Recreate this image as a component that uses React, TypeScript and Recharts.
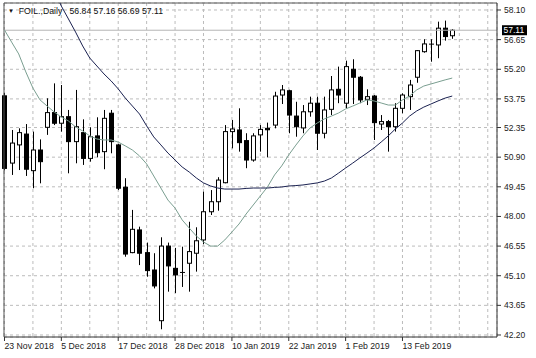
import {
  Bar,
  CartesianGrid,
  ComposedChart,
  Line,
  ReferenceLine,
  XAxis,
  YAxis,
} from "recharts";

// daily candles, 23 Nov 2018 .. 22 Feb 2019 (index = trading day)
const opens = [
  53.9, 50.61, 51.5, 52.03, 50.24, 51.25, 52.36, 53.08, 52.56, 52.88, 51.66, 52.1, 50.84, 51.94, 51.17, 53.05,
  51.5, 49.43, 46.23, 47.34, 46.23, 45.38, 42.9, 46.55, 45.46, 45.24, 45.71, 46.2, 46.85, 48.23, 48.72, 49.65,
  52.15, 52.23, 51.71, 50.76, 51.99, 52.31, 52.47, 53.94, 54.15, 52.91, 52.33, 53.12, 53.54, 52.07, 53.24, 54.22,
  53.54, 55.2, 54.81, 53.73, 53.89, 52.52, 52.64, 52.39, 53.29, 53.86, 54.81, 56.06, 56.41, 56.39, 57.21, 56.84,
];
const highs = [
  54.05, 52.23, 52.31, 52.52, 52.15, 51.77, 53.78, 54.51, 54.43, 53.21, 54.19, 52.75, 52.36, 52.85, 53.21, 53.21,
  51.55, 49.87, 48.32, 47.5, 46.72, 46.2, 46.98, 46.72, 46.46, 46.52, 47.74, 47.47, 49.21, 49.29, 49.92, 52.47,
  52.72, 53.29, 52.07, 52.07, 52.47, 52.59, 54.1, 54.43, 54.2, 53.61, 53.45, 53.86, 53.86, 53.86, 54.87, 55.33,
  55.62, 55.69, 54.87, 54.22, 53.94, 52.96, 52.72, 53.54, 54.02, 54.68, 56.14, 56.67, 56.67, 57.53, 57.58, 57.16,
];
const lows = [
  50.25, 50.03, 50.27, 49.98, 49.38, 49.62, 51.99, 52.47, 52.15, 50.11, 50.6, 50.52, 50.68, 50.89, 50.31, 51.09,
  49.29, 46.03, 46.2, 45.62, 45.05, 44.48, 42.48, 44.32, 44.25, 44.55, 44.32, 45.3, 46.65, 48.07, 48.28, 49.62,
  51.33, 51.17, 50.36, 50.68, 51.17, 50.89, 52.31, 53.5, 52.07, 51.9, 52.07, 52.88, 51.25, 51.82, 52.96, 53.54,
  53.29, 53.5, 53.54, 53.45, 51.74, 52.23, 51.17, 52.15, 53.05, 53.21, 54.54, 56.01, 55.57, 55.74, 56.6, 56.69,
];
const closes = [
  50.35, 51.59, 52.1, 50.31, 51.25, 50.68, 53.08, 52.56, 52.88, 51.66, 52.39, 50.84, 51.9, 51.12, 52.8, 51.66,
  49.38, 46.16, 47.37, 46.2, 45.35, 44.6, 46.55, 45.58, 45.14, 45.26, 46.28, 46.81, 48.23, 48.72, 49.78, 52.15,
  52.28, 51.61, 50.76, 51.94, 52.26, 52.24, 53.89, 54.19, 52.96, 52.39, 53.12, 53.54, 52.07, 53.21, 54.19, 53.94,
  55.33, 54.81, 53.7, 53.86, 52.59, 52.64, 52.39, 53.29, 53.94, 54.43, 56.11, 56.44, 56.43, 57.21, 56.8, 57.11,
];

// moving averages
const fastMa = [
  57.12, 56.53, 55.95, 55.07, 54.28, 53.7, 53.4, 53.11, 52.86, 52.67, 52.38, 52.18, 51.94, 51.79, 51.74, 51.74,
  51.64, 51.45, 51.25, 50.96, 50.57, 49.98, 49.39, 48.8, 48.41, 47.83, 47.43, 47.04, 46.75, 46.55, 46.55, 46.85,
  47.24, 47.63, 48.12, 48.56, 49.0, 49.44, 50.03, 50.47, 51.01, 51.49, 51.94, 52.33, 52.57, 52.77, 52.91, 53.06,
  53.26, 53.4, 53.55, 53.7, 53.65, 53.55, 53.45, 53.45, 53.7, 53.89, 54.19, 54.38, 54.48, 54.58, 54.68, 54.77,
];
const slowMa = [
  null, null, null, null, null, null, null, 59.08, 58.29, 57.66, 57.02, 56.34, 55.75, 55.36, 54.97, 54.63,
  54.24, 53.79, 53.4, 53.01, 52.43, 51.89, 51.5, 51.1, 50.76, 50.42, 50.17, 49.88, 49.64, 49.49, 49.39, 49.34,
  49.34, 49.34, 49.37, 49.39, 49.39, 49.39, 49.42, 49.44, 49.49, 49.51, 49.54, 49.59, 49.64, 49.73, 49.88, 50.12,
  50.37, 50.61, 50.86, 51.1, 51.35, 51.64, 51.94, 52.28, 52.57, 52.91, 53.16, 53.35, 53.5, 53.65, 53.79, 53.89,
];

const dateTicks = [0, 8, 16, 24, 32, 40, 48, 56];
const dateLabels = [
  "23 Nov 2018",
  "5 Dec 2018",
  "17 Dec 2018",
  "28 Dec 2018",
  "10 Jan 2019",
  "22 Jan 2019",
  "1 Feb 2019",
  "13 Feb 2019",
];
const gridTicks = [0, 4, 8, 12, 16, 20, 24, 28, 32, 36, 40, 44, 48, 52, 56, 60, 64, 68];
const priceTicks = [42.2, 43.65, 45.1, 46.55, 48.0, 49.45, 50.9, 52.35, 53.75, 55.2, 56.65, 58.1];

const symbol = "FOIL.,Daily";
const lastBar = { o: 56.84, h: 57.16, l: 56.69, c: 57.11 };

const xDomain: [number, number] = [-0.07, 69.3];
const yDomain: [number, number] = [42.102, 58.442];

const FONT = '"Liberation Sans", Arial, sans-serif';

const data = opens.map((open, i) => ({
  i,
  open,
  high: highs[i],
  low: lows[i],
  close: closes[i],
  fast: fastMa[i],
  slow: slowMa[i],
}));

function Candle(props: any) {
  const { x, y, width, height, payload } = props;
  const { open, close, high, low } = payload;
  const cx = Math.round(x + width / 2) + 0.5;
  const k = height / (high - low);
  const yOf = (v: number) => y + (high - v) * k;
  const top = yOf(Math.max(open, close));
  const bot = yOf(Math.min(open, close));
  const bull = close >= open;
  const bodyH = bot - top;
  return (
    <g>
      <line x1={cx} x2={cx} y1={y} y2={y + height} stroke="#000" strokeWidth={1} />
      {bodyH < 1.2 ? (
        <line x1={cx - 2.5} x2={cx + 2.5} y1={top} y2={top} stroke="#000" strokeWidth={1} />
      ) : (
        <rect
          x={cx - 2}
          y={top}
          width={4}
          height={bodyH}
          fill={bull ? "#fff" : "#000"}
          stroke="#000"
          strokeWidth={1}
        />
      )}
    </g>
  );
}

function DateTick(props: any) {
  const { x, y, payload } = props;
  const k = dateTicks.indexOf(payload.value);
  if (k < 0) return null;
  return (
    <g>
      <line x1={x} x2={x} y1={y} y2={y + 4} stroke="#333" />
      <text x={x} y={y + 12} textAnchor="start" fontSize={8.7} fontFamily={FONT} fill="#222">
        {dateLabels[k]}
      </text>
    </g>
  );
}

function LastPriceLabel(props: any) {
  const { viewBox } = props;
  const x = viewBox.x + viewBox.width + 5;
  const y = viewBox.y;
  return (
    <g>
      <rect x={x} y={y - 5} width={25} height={10} fill="#000" />
      <text x={x + 1.5} y={y + 3.2} fontSize={8.5} fontFamily={FONT} fill="#fff">
        {lastBar.c.toFixed(2)}
      </text>
    </g>
  );
}

export default function App() {
  return (
    <div
      style={{
        position: "absolute",
        left: 0,
        top: 0,
        width: 536,
        height: 358,
        background: "#fff",
      }}
    >
      <ComposedChart
        width={536}
        height={358}
        data={data}
        margin={{ top: 3, right: 0, bottom: 0, left: 4 }}
      >
        <CartesianGrid stroke="#bcbcbc" strokeDasharray="3 3" />
        <XAxis
          dataKey="i"
          type="number"
          domain={xDomain}
          ticks={gridTicks}
          interval={0}
          height={21}
          tickSize={0}
          tickMargin={0}
          tickLine={false}
          axisLine={{ stroke: "#333" }}
          tick={<DateTick />}
        />
        <YAxis
          orientation="right"
          type="number"
          domain={yDomain}
          allowDataOverflow
          ticks={priceTicks}
          interval={0}
          width={39}
          tickSize={4}
          tickMargin={3}
          tickFormatter={(v: number) => v.toFixed(2)}
          tick={{ fontSize: 8.5, fontFamily: FONT, fill: "#222" }}
          tickLine={{ stroke: "#333" }}
          axisLine={{ stroke: "#333" }}
        />
        <ReferenceLine x={xDomain[0]} stroke="#555" />
        <ReferenceLine y={yDomain[1]} stroke="#555" />
        <ReferenceLine y={lastBar.c} stroke="#b4b4b4" label={<LastPriceLabel />} />
        <Bar
          dataKey={(d: any) => [d.low, d.high]}
          barSize={5}
          shape={<Candle />}
          isAnimationActive={false}
        />
        <Line
          type="linear"
          dataKey="fast"
          stroke="#7a9e90"
          strokeWidth={1}
          dot={false}
          activeDot={false}
          isAnimationActive={false}
        />
        <Line
          type="linear"
          dataKey="slow"
          stroke="#1a2150"
          strokeWidth={1}
          dot={false}
          activeDot={false}
          isAnimationActive={false}
        />
      </ComposedChart>
      <div
        style={{
          position: "absolute",
          left: 8,
          top: 6,
          fontSize: 8.7,
          lineHeight: "10px",
          fontFamily: FONT,
          color: "#111",
          whiteSpace: "pre",
        }}
      >
        <span style={{ fontSize: 6, verticalAlign: "1px" }}>▼</span>
        {`  ${symbol}   ${lastBar.o.toFixed(2)} ${lastBar.h.toFixed(2)} ${lastBar.l.toFixed(2)} ${lastBar.c.toFixed(2)}`}
      </div>
    </div>
  );
}
